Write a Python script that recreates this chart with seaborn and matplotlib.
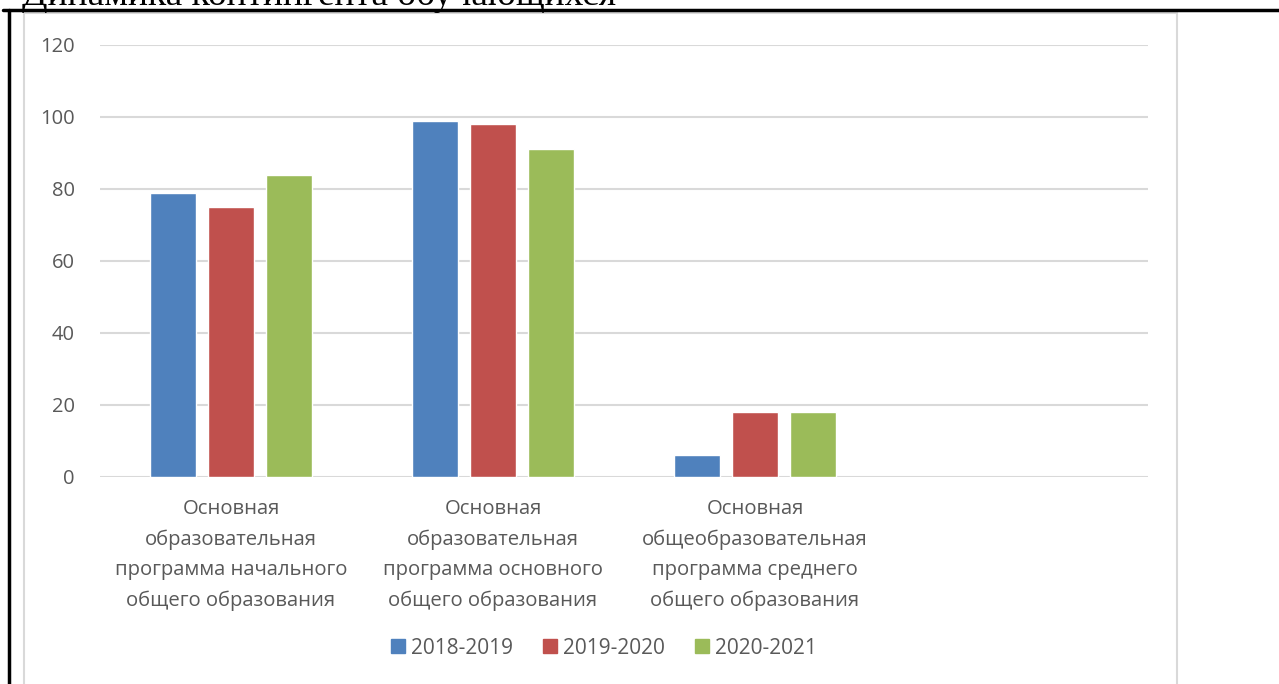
import pandas as pd
import matplotlib
matplotlib.use("Agg")
import matplotlib.pyplot as plt
import seaborn as sns
from matplotlib.lines import Line2D
from matplotlib.patches import Rectangle

categories = [
    "Основная\nобразовательная\nпрограмма начального\nобщего образования",
    "Основная\nобразовательная\nпрограмма основного\nобщего образования",
    "Основная\nобщеобразовательная\nпрограмма среднего\nобщего образования",
    " ",
]
years = ["2018-2019", "2019-2020", "2020-2021"]
values_2018 = [79, 99, 6, None]
values_2019 = [75, 98, 18, None]
values_2020 = [84, 91, 18, None]
colors = ["#4f81bd", "#c0504d", "#9bbb59"]
title = "Динамика контингента обучающихся"

rows = []
for yr, vals in zip(years, [values_2018, values_2019, values_2020]):
    for cat, v in zip(categories, vals):
        rows.append({"cat": cat, "year": yr, "value": v})
df = pd.DataFrame(rows)

sns.set_style("white")
plt.rcParams["font.family"] = ["Open Sans", "DejaVu Sans"]

fig = plt.figure(figsize=(12.79, 6.84), dpi=100)
ax = fig.add_axes([100 / 1279, 1 - 477 / 684, 1048 / 1279, 432 / 684])

sns.barplot(data=df, x="cat", y="value", hue="year", order=categories,
            hue_order=years, palette=colors, width=0.664, gap=0.207,
            saturation=1, ax=ax, legend=False)

ax.set_xlim(-0.5, 3.5)
ax.set_ylim(0, 120)
ax.set_yticks(range(0, 121, 20))
ax.yaxis.grid(True, color="#d9d9d9", linewidth=1.5)
ax.set_axisbelow(True)
for s in ax.spines.values():
    s.set_visible(False)
ax.set_xlabel("")
ax.set_ylabel("")
ax.tick_params(axis="both", length=0, labelsize=14.6, colors="#595959")
ax.tick_params(axis="y", labelsize=14.5, pad=18)
ax.tick_params(axis="x", pad=16)
for lbl in ax.get_xticklabels():
    lbl.set_linespacing(1.67)

handles = [Rectangle((0, 0), 1, 1, color=c) for c in colors]
fig.legend(handles, years, loc="center", bbox_to_anchor=(604 / 1279, 1 - 648 / 684),
           ncol=3, frameon=False, fontsize=15, handlelength=0.68, handleheight=0.68,
           handletextpad=0.28, columnspacing=1.45, labelcolor="#595959")

# chart area border
fig.add_artist(Rectangle((24 / 1279, -0.01), (1177 - 24) / 1279, 1 - 13 / 684 + 0.01,
                         transform=fig.transFigure, fill=False, edgecolor="#d9d9d9",
                         linewidth=1.5))
# document table frame
fig.add_artist(Line2D([3 / 1279, 1], [1 - 10 / 684] * 2, transform=fig.transFigure,
                      color="black", linewidth=2.5))
fig.add_artist(Line2D([9 / 1279] * 2, [0, 1 - 10 / 684], transform=fig.transFigure,
                      color="black", linewidth=2.5))
fig.text(22 / 1279, 1 - 5 / 684, title, family="Liberation Serif", fontsize=27,
         va="baseline", ha="left", color="black")

fig.savefig("out.png", dpi=100)
